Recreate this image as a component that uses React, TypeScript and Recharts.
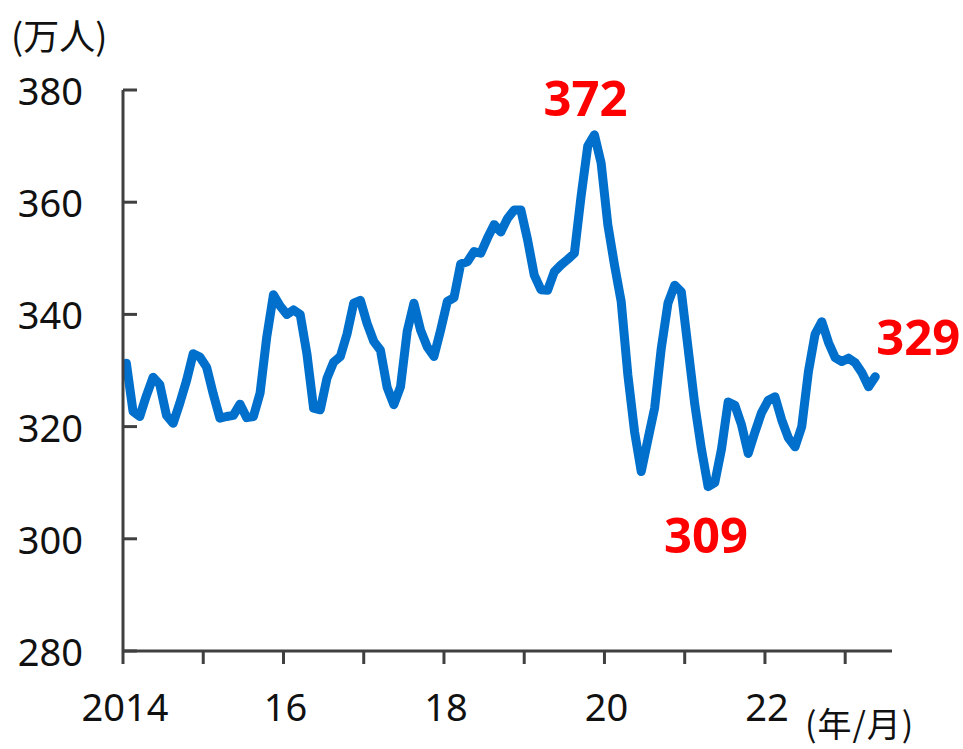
import React from 'react';
import { LineChart, Line, XAxis, YAxis } from 'recharts';

// Monthly values (万人), Jan 2014 – May 2023
const values: number[] = [
  331.3, 322.7, 321.8, 325.5, 328.8, 327.5, 322.0, 320.6, 324.2, 328.2, 333.0, 332.4,
  330.6, 325.8, 321.5, 321.8, 322.0, 324.0, 321.6, 321.8, 326.0, 336.0, 343.5, 341.5,
  340.0, 340.8, 340.0, 333.0, 323.3, 323.0, 328.6, 331.5, 332.5, 336.5, 342.0, 342.5,
  338.4, 335.2, 333.6, 327.0, 323.9, 327.1, 337.0, 342.0, 337.2, 334.2, 332.5, 337.2,
  342.3, 343.0, 349.0, 349.4, 351.2, 350.9, 353.6, 356.0, 354.7, 357.1, 358.6, 358.6,
  353.3, 347.0, 344.4, 344.3, 347.6, 348.8, 349.8, 350.9, 361.0, 370.0, 372.0, 367.0,
  356.0, 348.8, 342.3, 329.2, 319.1, 312.0, 317.7, 323.3, 334.0, 342.0, 345.2, 344.0,
  334.0, 324.0, 316.0, 309.3, 310.0, 316.0, 324.4, 323.8, 320.3, 315.2, 319.0, 322.5,
  324.7, 325.3, 321.2, 318.0, 316.4, 320.0, 329.8, 336.5, 338.7, 335.0, 332.3, 331.6,
  332.2, 331.4, 329.6, 327.1, 328.9,
];

const yTicks: number[] = [280, 300, 320, 340, 360, 380];
const yearTickPositions: number[] = [0, 12, 24, 36, 48, 60, 72, 84, 96, 108];
const yearTickLabels: string[] = ['2014', '', '16', '', '18', '', '20', '', '22', ''];
const annotationIndex: number[] = [70, 87, 112];
const annotationText: string[] = ['372', '309', '329'];
const annotationOffset: { dx: number; dy: number }[] = [
  { dx: -9, dy: -38 },
  { dx: -2, dy: 47 },
  { dx: 43, dy: -41 },
];

const data = values.map((v, i) => ({ t: i + 0.5, v }));

const AXIS = '#404040';
const TXT = '#111111';

const YTick = (props: any) => {
  const { x, y, payload } = props;
  return (
    <g>
      <line x1={x} y1={y} x2={x + 14} y2={y} stroke={AXIS} strokeWidth={3} />
      <text
        x={x - 40}
        y={y}
        textAnchor="end"
        dominantBaseline="central"
        fontFamily="'Noto Sans', sans-serif"
        fontSize={38}
        fill={TXT}
      >
        {payload.value}
      </text>
    </g>
  );
};

const XTick = (props: any) => {
  const { x, y, payload } = props;
  const idx = yearTickPositions.indexOf(payload.value);
  const label = idx >= 0 ? yearTickLabels[idx] : '';
  return (
    <g>
      <line x1={x} y1={y} x2={x} y2={y + 13} stroke={AXIS} strokeWidth={3} />
      {label && (
        <text
          x={x + 2}
          y={y + 55}
          textAnchor="middle"
          dominantBaseline="central"
          fontFamily="'Noto Sans', sans-serif"
          fontSize={38}
          fill={TXT}
        >
          {label}
        </text>
      )}
    </g>
  );
};

const renderAnnotation = (props: any) => {
  const { x, y, index } = props;
  const k = annotationIndex.indexOf(index);
  if (k < 0) return null;
  const off = annotationOffset[k];
  return (
    <text
      key={`ann-${index}`}
      x={x + off.dx}
      y={y + off.dy}
      textAnchor="middle"
      dominantBaseline="central"
      fontFamily="'Noto Sans', sans-serif"
      fontWeight="bold"
      fontSize={49}
      fill="#FF0000"
    >
      {annotationText[k]}
    </text>
  );
};

export default function App() {
  return (
    <div style={{ position: 'absolute', left: 0, top: 0, width: 963, height: 749, background: '#fff' }}>
      <LineChart
        width={963}
        height={749}
        data={data}
        margin={{ top: 90, right: 71, bottom: 0, left: 0 }}
      >
        <XAxis
          type="number"
          dataKey="t"
          domain={[0, 115]}
          ticks={yearTickPositions}
          interval={0}
          height={98}
          tickSize={0}
          tickMargin={0}
          axisLine={{ stroke: AXIS, strokeWidth: 3 }}
          tickLine={false}
          tick={<XTick />}
          allowDataOverflow
        />
        <YAxis
          type="number"
          domain={[280, 380]}
          ticks={yTicks}
          interval={0}
          width={123}
          tickSize={0}
          tickMargin={0}
          axisLine={{ stroke: AXIS, strokeWidth: 3 }}
          tickLine={false}
          tick={<YTick />}
          allowDataOverflow
        />
        <Line
          type="linear"
          dataKey="v"
          stroke="#0070CC"
          strokeWidth={9}
          strokeLinejoin="round"
          strokeLinecap="round"
          dot={false}
          activeDot={false}
          isAnimationActive={false}
          label={renderAnnotation}
        />
      </LineChart>
      <div
        style={{
          position: 'absolute',
          left: 11,
          top: 14,
          fontFamily: "'Noto Sans CJK JP', sans-serif",
          fontSize: 36,
          lineHeight: '40px',
          color: TXT,
          whiteSpace: 'nowrap',
        }}
      >
        (万人)
      </div>
      <div
        style={{
          position: 'absolute',
          left: 805,
          top: 704,
          fontFamily: "'Noto Sans CJK JP', sans-serif",
          fontSize: 34,
          letterSpacing: 1,
          lineHeight: '38px',
          color: TXT,
          whiteSpace: 'nowrap',
        }}
      >
        (年/月)
      </div>
    </div>
  );
}
